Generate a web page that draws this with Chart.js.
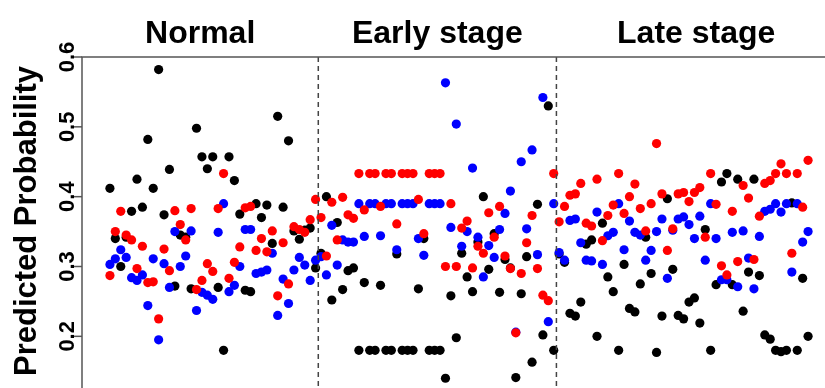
<!DOCTYPE html>
<html>
<head>
<meta charset="utf-8">
<script src="https://cdn.jsdelivr.net/npm/chart.js@4.4.1/dist/chart.umd.min.js"></script>
<style>
  html, body { margin: 0; padding: 0; overflow: hidden; background: #fff; }
  canvas { display: block; }
</style>
</head>
<body>
<canvas id="grafico" width="850" height="400"></canvas>
<script>
// grupos e eixo
let grupos = ['Normal', 'Early stage', 'Late stage']
let tamanhoGrupos = [39, 44, 47]
let ticksY = [0.2, 0.3, 0.4, 0.5, 0.6]
let tituloY = 'Predicted Probability'

// valores (preto, vermelho, azul)
let normalPreto = [0.412, 0.340, 0.300, 0.342, 0.379, 0.425, 0.385, 0.482, 0.412, 0.582,
  0.374, 0.439, 0.272, 0.345, 0.342, 0.268, 0.498, 0.457, 0.440, 0.457,
  0.270, 0.180, 0.457, 0.423, 0.375, 0.266, 0.264, 0.390, 0.370, 0.388,
  0.333, 0.515, 0.385, 0.480, 0.351, 0.339, 0.352, 0.355, 0.298]
let normalVermelho = [0.287, 0.350, 0.379, 0.345, 0.338, 0.297, 0.329, 0.277, 0.278, 0.225,
  0.325, 0.294, 0.380, 0.360, 0.338, 0.383, 0.267, 0.280, 0.304, 0.293,
  0.383, 0.433, 0.283, 0.306, 0.328, 0.384, 0.386, 0.323, 0.340, 0.321,
  0.351, 0.258, 0.334, 0.275, 0.357, 0.353, 0.349, 0.367, 0.396]
let normalAzul = [0.303, 0.311, 0.324, 0.313, 0.284, 0.280, 0.288, 0.244, 0.311, 0.195,
  0.304, 0.270, 0.350, 0.300, 0.315, 0.351, 0.237, 0.263, 0.259, 0.253,
  0.349, 0.390, 0.264, 0.273, 0.300, 0.353, 0.353, 0.290, 0.292, 0.295,
  0.319, 0.230, 0.282, 0.247, 0.295, 0.313, 0.302, 0.280, 0.309]

let earlyPreto = [0.319, 0.400, 0.252, 0.363, 0.267, 0.294, 0.298, 0.180, 0.277, 0.180,
  0.180, 0.273, 0.180, 0.180, 0.318, 0.180, 0.180, 0.180, 0.268, 0.340,
  0.180, 0.180, 0.180, 0.140, 0.258, 0.198, 0.319, 0.285, 0.264, 0.335,
  0.400, 0.296, 0.347, 0.263, 0.310, 0.298, 0.141, 0.261, 0.314, 0.163,
  0.389, 0.202, 0.530, 0.180]
let earlyVermelho = [0.370, 0.315, 0.392, 0.338, 0.399, 0.374, 0.369, 0.433, 0.381, 0.433,
  0.433, 0.386, 0.433, 0.433, 0.361, 0.433, 0.433, 0.433, 0.396, 0.347,
  0.433, 0.433, 0.433, 0.300, 0.390, 0.300, 0.355, 0.365, 0.298, 0.329,
  0.319, 0.377, 0.342, 0.386, 0.315, 0.297, 0.205, 0.290, 0.334, 0.373,
  0.297, 0.259, 0.251, 0.433]
let earlyAzul = [0.314, 0.288, 0.359, 0.302, 0.338, 0.335, 0.335, 0.390, 0.343, 0.390,
  0.390, 0.344, 0.390, 0.390, 0.324, 0.390, 0.390, 0.390, 0.340, 0.316,
  0.390, 0.390, 0.390, 0.563, 0.356, 0.504, 0.329, 0.350, 0.441, 0.342,
  0.285, 0.330, 0.313, 0.353, 0.376, 0.408, 0.206, 0.450, 0.354, 0.467,
  0.317, 0.542, 0.221, 0.390]

let latePreto = [0.318, 0.306, 0.233, 0.229, 0.249, 0.332, 0.338, 0.200, 0.362, 0.285,
  0.264, 0.180, 0.303, 0.240, 0.235, 0.275, 0.342, 0.290, 0.177, 0.229,
  0.397, 0.296, 0.230, 0.225, 0.249, 0.255, 0.219, 0.353, 0.180, 0.274,
  0.421, 0.433, 0.274, 0.425, 0.236, 0.292, 0.425, 0.287, 0.202, 0.196,
  0.180, 0.178, 0.180, 0.391, 0.180, 0.283, 0.200]
let lateVermelho = [0.364, 0.386, 0.402, 0.404, 0.419, 0.362, 0.358, 0.425, 0.337, 0.373,
  0.388, 0.433, 0.376, 0.400, 0.418, 0.383, 0.351, 0.390, 0.476, 0.404,
  0.323, 0.354, 0.404, 0.406, 0.393, 0.406, 0.413, 0.342, 0.433, 0.389,
  0.301, 0.288, 0.379, 0.307, 0.416, 0.398, 0.310, 0.372, 0.419, 0.423,
  0.433, 0.447, 0.433, 0.319, 0.433, 0.385, 0.452]
let lateAzul = [0.320, 0.309, 0.366, 0.368, 0.334, 0.309, 0.308, 0.378, 0.303, 0.344,
  0.349, 0.390, 0.324, 0.365, 0.349, 0.345, 0.309, 0.323, 0.350, 0.368,
  0.283, 0.352, 0.368, 0.371, 0.360, 0.340, 0.372, 0.309, 0.390, 0.340,
  0.281, 0.281, 0.349, 0.271, 0.351, 0.312, 0.268, 0.343, 0.379, 0.382,
  0.390, 0.378, 0.390, 0.292, 0.390, 0.335, 0.350]

let preto = normalPreto.concat(earlyPreto, latePreto)
let vermelho = normalVermelho.concat(earlyVermelho, lateVermelho)
let azul = normalAzul.concat(earlyAzul, lateAzul)

// amostra i -> x = i + 1
const pontos = (valores) => valores.map((v, i) => ({ x: i + 1, y: v }))

const fonte = '"Liberation Sans", Arial, Helvetica, sans-serif'

// caixa, tracejado, ticks e textos
const desenhos = {
  id: 'desenhos',
  afterDatasetsDraw(chart) {
    const c = chart.ctx
    const area = chart.chartArea
    const sx = chart.scales.x
    const sy = chart.scales.y
    c.save()

    let limites = [area.left]
    let soma = 0
    tamanhoGrupos.forEach((n, i) => {
      soma += n
      if (i < tamanhoGrupos.length - 1) limites.push(sx.getPixelForValue(soma + 0.5))
    })
    limites.push(area.right)

    c.strokeStyle = '#444'
    c.lineWidth = 1.5
    c.setLineDash([5, 4])
    for (let i = 1; i < limites.length - 1; i++) {
      c.beginPath()
      c.moveTo(limites[i], area.top)
      c.lineTo(limites[i], area.bottom)
      c.stroke()
    }
    c.setLineDash([])

    c.strokeStyle = '#555'
    c.lineWidth = 1.5
    c.strokeRect(area.left, area.top, area.right - area.left, area.bottom - area.top)

    c.fillStyle = '#000'
    c.textAlign = 'center'
    c.textBaseline = 'alphabetic'
    c.font = 'bold 22px ' + fonte
    ticksY.forEach(t => {
      const py = sy.getPixelForValue(t)
      c.beginPath()
      c.moveTo(area.left - 8, py)
      c.lineTo(area.left, py)
      c.stroke()
      c.save()
      c.translate(area.left - 8.5, py)
      c.rotate(-Math.PI / 2)
      c.fillText(t.toFixed(1), 0, 0)
      c.restore()
    })

    c.font = 'bold 31px ' + fonte
    c.save()
    c.translate(36, 221)
    c.rotate(-Math.PI / 2)
    c.fillText(tituloY, 0, 0)
    c.restore()

    c.font = 'bold 32px ' + fonte
    grupos.forEach((g, i) => {
      c.fillText(g, (limites[i] + limites[i + 1]) / 2, 42.7)
    })
    c.restore()
  }
}

const ctx = document.getElementById('grafico')
let grafico = new Chart(ctx, {
  type: 'scatter',
  data: {
    datasets: [
      { label: 'vermelho', data: pontos(vermelho), backgroundColor: '#ff0000', borderColor: '#ff0000' },
      { label: 'azul', data: pontos(azul), backgroundColor: '#0000ff', borderColor: '#0000ff' },
      { label: 'preto', data: pontos(preto), backgroundColor: '#000000', borderColor: '#000000' }
    ]
  },
  options: {
    responsive: false,
    animation: false,
    events: [],
    elements: { point: { radius: 4.6, hoverRadius: 4.6, borderWidth: 0 } },
    layout: { padding: { left: 82, top: 57, right: 14, bottom: 8.5 } },
    plugins: { legend: { display: false }, tooltip: { enabled: false } },
    scales: {
      x: { type: 'linear', min: -4.16, max: 135.16, display: false },
      y: { type: 'linear', min: 0.121, max: 0.6, display: false }
    }
  },
  plugins: [desenhos]
})
</script>
</body>
</html>
